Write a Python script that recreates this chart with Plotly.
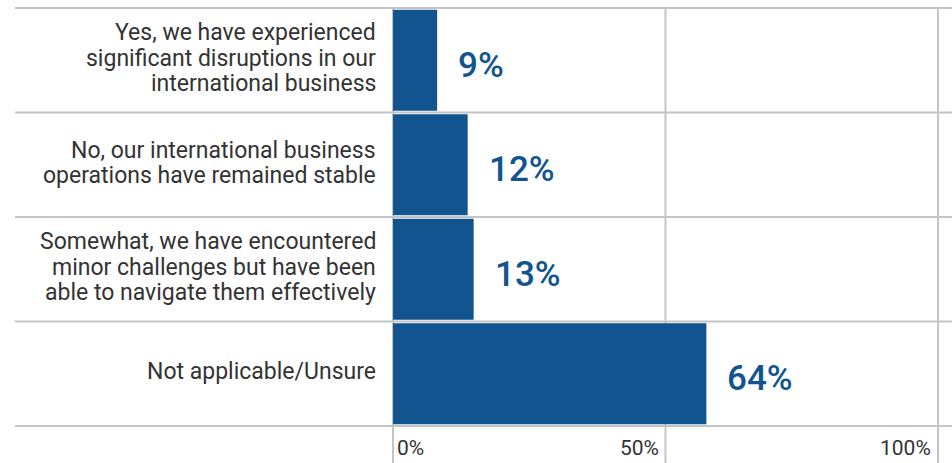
import plotly.graph_objects as go

categories = [
    "Yes, we have experienced<br>significant disruptions in our<br>international business",
    "No, our international business<br>operations have remained stable",
    "Somewhat, we have encountered<br>minor challenges but have been<br>able to navigate them effectively",
    "Not applicable/Unsure",
]
bar_values = [8.1, 13.7, 14.8, 57.5]
value_labels = ["9%", "12%", "13%", "64%"]
tick_values = [0, 50, 100]
tick_labels = ["0%", "50%", "100%"]

BLUE = "#12548f"
GRID = "#c4c4c6"
TEXT = "#333333"
FONT = "Roboto"

W, H = 952, 463
ML, MR, MT, MB = 393, 14, 8, 37
pw = W - ML - MR
ph = H - MT - MB
XMAX = 100
CAT_SIZE = 23
LINE_STEP = 25.5

fig = go.Figure()
fig.add_trace(go.Bar(
    y=categories, x=bar_values, orientation="h",
    marker=dict(color=BLUE, line=dict(width=0)),
    hoverinfo="skip",
))

shapes = []
n = len(categories)
for k in range(n + 1):
    yk = k / n
    shapes.append(dict(type="line", xref="paper", yref="paper",
                       x0=(15 - ML) / pw, x1=(W - ML) / pw, y0=yk, y1=yk,
                       line=dict(color=GRID, width=2), layer="below"))
for t in tick_values:
    xt = t / XMAX
    shapes.append(dict(type="line", xref="paper", yref="paper",
                       x0=xt, x1=xt, y0=-MB / ph, y1=1,
                       line=dict(color=GRID, width=2), layer="below"))

annotations = []
# category labels, one annotation per line for tighter line spacing
for cat in categories:
    lines = cat.split("<br>")
    m = len(lines)
    for i, ln in enumerate(lines):
        off = (i - (m - 1) / 2) * LINE_STEP
        annotations.append(dict(x=0, y=cat, xref="paper", yref="y", text=ln,
                                showarrow=False, xanchor="right", yanchor="middle",
                                xshift=-15, yshift=-off + 2,
                                font=dict(family=FONT, size=CAT_SIZE, color=TEXT)))
for cat, v, lab in zip(categories, bar_values, value_labels):
    annotations.append(dict(x=v, y=cat, xref="x", yref="y", text=lab,
                            showarrow=False, xanchor="left", yanchor="middle",
                            xshift=19, yshift=-5,
                            font=dict(family=FONT, size=35, color=BLUE, weight=500)))
for t, lab in zip(tick_values, tick_labels):
    first = t == tick_values[0]
    annotations.append(dict(x=t / XMAX, y=0, xref="paper", yref="paper", text=lab,
                            showarrow=False,
                            xanchor="left" if first else "right",
                            yanchor="top", xshift=2 if first else -5, yshift=-8,
                            font=dict(family=FONT, size=21, color=TEXT)))

fig.update_layout(
    width=W, height=H,
    margin=dict(l=ML, r=MR, t=MT, b=MB),
    paper_bgcolor="white", plot_bgcolor="white",
    showlegend=False,
    bargap=0.035,
    shapes=shapes,
    annotations=annotations,
    xaxis=dict(range=[0, XMAX], showgrid=False, zeroline=False,
               showticklabels=False, showline=False, fixedrange=True),
    yaxis=dict(autorange="reversed", showgrid=False, zeroline=False,
               showline=False, ticks="", showticklabels=False,
               fixedrange=True),
    font=dict(family=FONT),
)

fig.write_html("out.html", config={"displayModeBar": False})
